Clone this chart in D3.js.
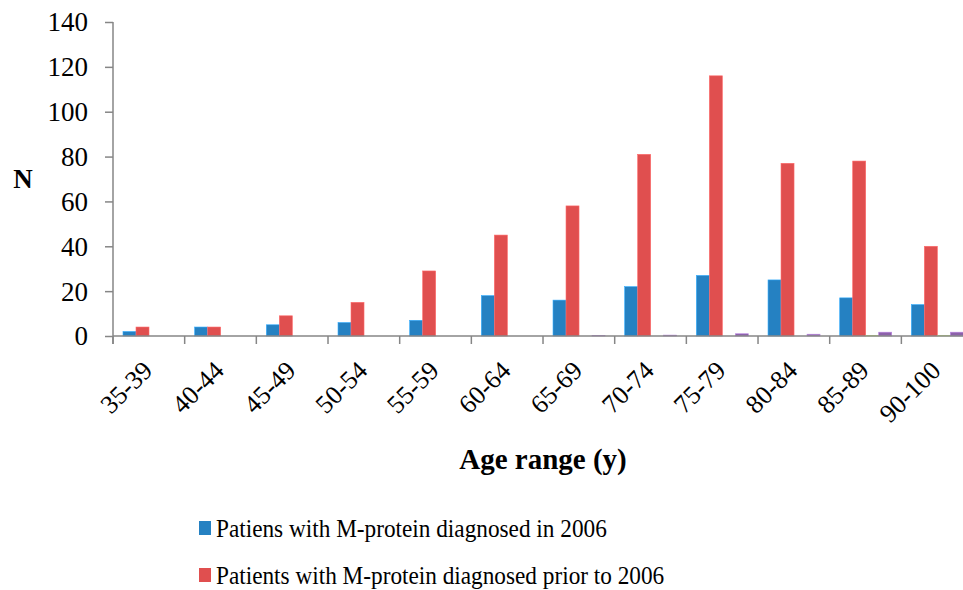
<!DOCTYPE html>
<html>
<head>
<meta charset="utf-8">
<script src="https://cdn.jsdelivr.net/npm/d3@7"></script>
<style>
  body { margin: 0; background: #fff; }
  svg { display: block; }
  svg text { font-family: "Liberation Serif", "Times New Roman", Times, "DejaVu Serif", serif !important; fill: #000; }
</style>
</head>
<body>
<svg width="963" height="590"></svg>
<script>
const ageRanges = ["35-39", "40-44", "45-49", "50-54", "55-59", "60-64", "65-69", "70-74", "75-79", "80-84", "85-89", "90-100"]
const diagnosed2006 = [2, 4, 5, 6, 7, 18, 16, 22, 27, 25, 17, 14]
const diagnosedPrior = [4, 4, 9, 15, 29, 45, 58, 81, 116, 77, 78, 40]
const thirdSeries = [0, 0, 0, 0, 0, 0, 0, 0, 0, 0, 0.2, 0.2]
const fourthSeries = [0, 0, 0, 0, 0, 0, 0.2, 0.4, 1, 0.8, 1.7, 1.7]
const yTicks = [0, 20, 40, 60, 80, 100, 120, 140]
const legendLabels = ["Patiens with M-protein diagnosed in 2006", "Patients with M-protein diagnosed prior to 2006"]

const seriesKeys = ["s2006", "prior", "s3", "s4"]
const colors = { s2006: "#2581c2", prior: "#e04f4f", s3: "#9bbb59", s4: "#8c62aa" }

const rows = ageRanges.map((a, i) => ({
  age: a,
  s2006: diagnosed2006[i],
  prior: diagnosedPrior[i],
  s3: thirdSeries[i],
  s4: fourthSeries[i]
}))

const svg = d3.select("svg")
const plotLeft = 113, plotTop = 22, plotBottom = 336
const band = 71.67

const x0 = d3.scaleBand().domain(ageRanges).range([plotLeft, plotLeft + band * ageRanges.length])
const x1 = d3.scaleBand().domain(seriesKeys).range([10, 62])
const y = d3.scaleLinear().domain([0, 140]).range([plotBottom, plotTop])

// y axis
const yAxis = svg.append("g")
  .attr("transform", `translate(${plotLeft},0)`)
  .call(d3.axisLeft(y).tickValues(yTicks).tickSize(8).tickPadding(17))
yAxis.select(".domain").attr("stroke", "#868686").attr("stroke-width", 1.5).attr("d", `M0,${plotTop}V${plotBottom + 8}`)
yAxis.selectAll(".tick line").attr("stroke", "#868686").attr("stroke-width", 1.5)
yAxis.selectAll(".tick text")
  .style("font-size", "27px")
  .attr("dy", "0.33em")

// bars
const groups = svg.append("g").selectAll("g")
  .data(rows)
  .join("g")
  .attr("transform", d => `translate(${x0(d.age)},0)`)

groups.selectAll("rect")
  .data(d => seriesKeys.map(k => ({ key: k, value: d[k] })))
  .join("rect")
  .attr("x", d => x1(d.key))
  .attr("y", d => y(d.value))
  .attr("width", x1.bandwidth())
  .attr("height", d => plotBottom - y(d.value))
  .attr("fill", d => colors[d.key])
  .attr("stroke", d => d.value > 0 ? d3.color(colors[d.key]).brighter(0.8) : "none")
  .attr("stroke-width", 0.6)

// x axis
const xAxis = svg.append("g")
  .attr("transform", `translate(0,${plotBottom})`)
xAxis.append("line")
  .attr("x1", plotLeft).attr("x2", 963)
  .attr("stroke", "#868686").attr("stroke-width", 1.5)
xAxis.selectAll(".sep")
  .data(ageRanges)
  .join("line")
  .attr("class", "sep")
  .attr("x1", d => x0(d)).attr("x2", d => x0(d))
  .attr("y1", 0).attr("y2", 8)
  .attr("stroke", "#868686").attr("stroke-width", 1.5)
xAxis.selectAll(".lbl")
  .data(ageRanges)
  .join("text")
  .attr("class", "lbl")
  .attr("text-anchor", "end")
  .attr("transform", d => `translate(${x0(d) + x0.bandwidth() / 2 + 5},${36}) rotate(-45)`)
  .style("font-size", "26px")
  .text(d => d)

// axis titles
svg.append("text")
  .attr("x", 23).attr("y", 188)
  .attr("text-anchor", "middle")
  .style("font-size", "27px").style("font-weight", "bold")
  .text("N")

svg.append("text")
  .attr("x", 543).attr("y", 469)
  .attr("text-anchor", "middle")
  .style("font-size", "29px").style("font-weight", "bold")
  .text("Age range (y)")

// legend
const legend = svg.append("g").selectAll("g")
  .data(legendLabels)
  .join("g")
  .attr("transform", (d, i) => `translate(199,${521 + i * 47})`)
legend.append("rect")
  .attr("width", 12).attr("height", 14)
  .attr("fill", (d, i) => colors[seriesKeys[i]])
legend.append("text")
  .attr("transform", "translate(17,16) scale(0.895,1)")
  .style("font-size", "26px")
  .text(d => d)
</script>
</body>
</html>
